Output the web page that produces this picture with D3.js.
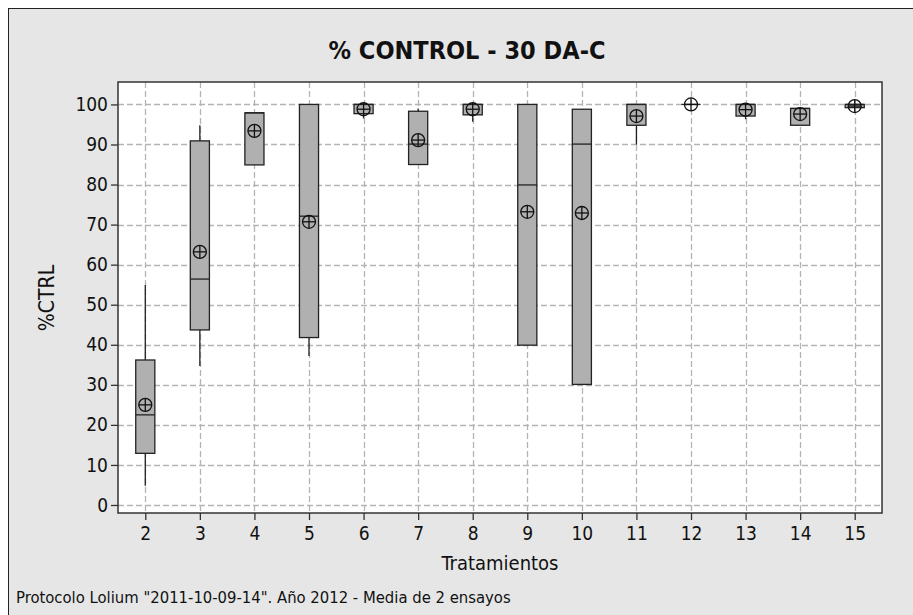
<!DOCTYPE html>
<html>
<head>
<meta charset="utf-8">
<script src="https://cdn.jsdelivr.net/npm/d3@7"></script>
<style>
  body { margin: 0; background: #fff; }
  svg text { font-family: "DejaVu Sans Condensed", "DejaVu Sans", sans-serif; fill: #111; }
</style>
</head>
<body>
<svg id="chart" width="913" height="615"></svg>
<script>
// values, one entry per treatment
const treatments  = [2, 3, 4, 5, 6, 7, 8, 9, 10, 11, 12, 13, 14, 15];
const whiskerLow  = [4.8, 34.7, 84.9, 37.2, 96.5, 85.0, 95.7, 39.9, 30.1, 90.0, 100, 96.3, 94.8, 99.2];
const q1          = [12.9, 43.7, 84.9, 41.8, 97.7, 85.0, 97.4, 39.9, 30.1, 94.8, 100, 97.1, 94.8, 99.2];
const medians     = [22.5, 56.4, 97.9, 72.1, 100, 90.1, 100, 79.9, 90.1, 100, 100, 100, 99.0, 100];
const q3          = [36.2, 90.9, 97.9, 100, 100, 98.3, 100, 100, 98.8, 100, 100, 100, 99.0, 100];
const whiskerHigh = [54.9, 94.8, 97.9, 100, 100, 99.0, 100, 100, 98.8, 100, 100, 100, 99.0, 100];
const means       = [25.0, 63.2, 93.4, 70.7, 98.8, 91.1, 98.8, 73.2, 72.9, 97.1, 100, 98.7, 97.6, 99.6];
const yTicks = d3.range(0, 101, 10);

const svg = d3.select("#chart");
const W = 913, H = 615;
const plot = { left: 118, top: 82, right: 882, bottom: 513 };

// frame
svg.append("rect").attr("x", 0).attr("y", 0).attr("width", W).attr("height", H).attr("fill", "#fff");
svg.append("rect").attr("x", 8.5).attr("y", 8.5).attr("width", W + 20).attr("height", H + 20)
  .attr("fill", "#e6e6e6").attr("stroke", "#222").attr("stroke-width", 1);

const x = d3.scaleLinear().domain([1.5, 15.5]).range([plot.left, plot.right]);
const y = d3.scaleLinear().domain([-2, 105.6]).range([plot.bottom, plot.top]);

svg.append("rect").attr("x", plot.left).attr("y", plot.top)
  .attr("width", plot.right - plot.left).attr("height", plot.bottom - plot.top)
  .attr("fill", "#fff");

// grid
const grid = svg.append("g").attr("stroke", "#b4b4b4").attr("stroke-width", 1.3)
  .attr("stroke-dasharray", "6,3");
grid.selectAll(".gy").data(yTicks).join("line")
  .attr("x1", plot.left).attr("x2", plot.right)
  .attr("y1", d => Math.round(y(d)) + 0.5).attr("y2", d => Math.round(y(d)) + 0.5);
grid.selectAll(".gx").data(treatments).join("line")
  .attr("y1", plot.top).attr("y2", plot.bottom)
  .attr("x1", d => Math.round(x(d)) + 0.5).attr("x2", d => Math.round(x(d)) + 0.5);

// axes
const yAxis = svg.append("g").attr("transform", `translate(${plot.left},0)`)
  .call(d3.axisLeft(y).tickValues(yTicks).tickSize(7).tickPadding(3));
const xAxis = svg.append("g").attr("transform", `translate(0,${plot.bottom})`)
  .call(d3.axisBottom(x).tickValues(treatments).tickSize(7).tickPadding(7));
[xAxis, yAxis].forEach(a => {
  a.select(".domain").remove();
  a.selectAll("line").attr("stroke", "#333").attr("stroke-width", 1.3);
  a.selectAll("text").style("font-size", "19px").attr("fill", "#111");
});

svg.append("rect").attr("x", plot.left).attr("y", plot.top)
  .attr("width", plot.right - plot.left).attr("height", plot.bottom - plot.top)
  .attr("fill", "none").attr("stroke", "#333").attr("stroke-width", 1.5);

// boxes
const bw = x(1.35) - x(1);
const boxes = svg.append("g").selectAll("g").data(treatments).join("g");
boxes.append("line")
  .attr("x1", d => x(d)).attr("x2", d => x(d))
  .attr("y1", (d, i) => y(whiskerLow[i])).attr("y2", (d, i) => y(whiskerHigh[i]))
  .attr("stroke", "#222").attr("stroke-width", 1.3);
boxes.append("rect")
  .attr("x", d => x(d) - bw / 2).attr("width", bw)
  .attr("y", (d, i) => y(q3[i])).attr("height", (d, i) => y(q1[i]) - y(q3[i]))
  .attr("fill", "#b0b0b0").attr("stroke", "#222").attr("stroke-width", 1.3);
boxes.append("line")
  .attr("x1", d => x(d) - bw / 2).attr("x2", d => x(d) + bw / 2)
  .attr("y1", (d, i) => y(medians[i])).attr("y2", (d, i) => y(medians[i]))
  .attr("stroke", "#222").attr("stroke-width", 1.3);

// mean symbols (circle with cross)
const r = 6.5;
const m = boxes.append("g").attr("transform", (d, i) => `translate(${x(d)},${y(means[i])})`)
  .attr("stroke", "#111").attr("stroke-width", 1.3).attr("fill", "none");
m.append("circle").attr("r", r);
m.append("line").attr("x1", -r).attr("x2", r);
m.append("line").attr("y1", -r).attr("y2", r);

// texts
svg.append("text").attr("x", 467).attr("y", 59).attr("text-anchor", "middle")
  .style("font-size", "25px").style("font-weight", "bold").text("% CONTROL - 30 DA-C");
svg.append("text").attr("x", 500).attr("y", 570).attr("text-anchor", "middle")
  .style("font-size", "20px").text("Tratamientos");
svg.append("text").attr("transform", "translate(54,298) rotate(-90)").attr("text-anchor", "middle")
  .style("font-size", "21px").text("%CTRL");
svg.append("text").attr("x", 16).attr("y", 603)
  .style("font-size", "16.5px").text('Protocolo Lolium "2011-10-09-14". Año 2012 - Media de 2 ensayos');
</script>
</body>
</html>
